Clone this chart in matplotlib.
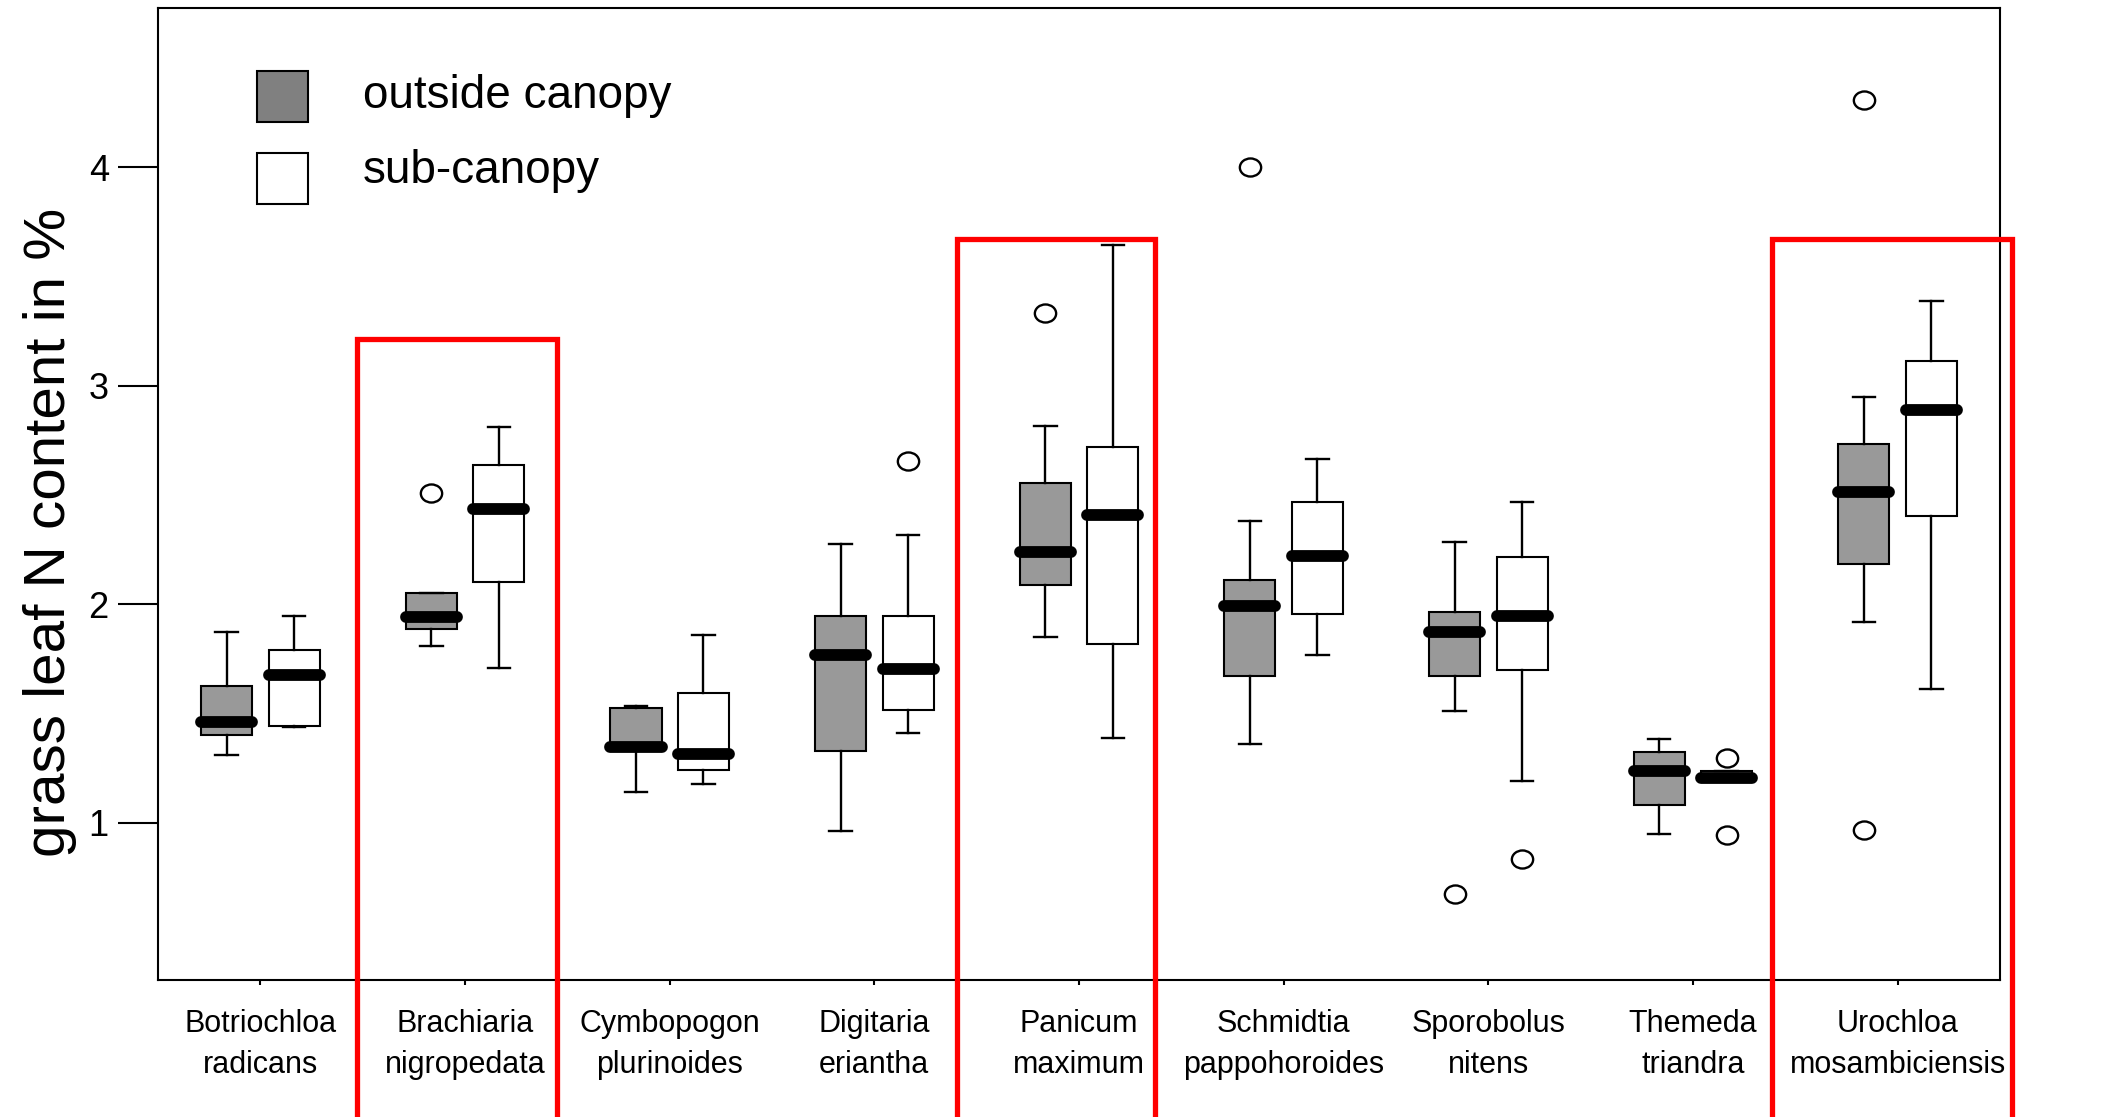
import matplotlib
matplotlib.use('Agg')
import matplotlib.pyplot as plt
from matplotlib import font_manager
from matplotlib.markers import MarkerStyle
from matplotlib.patches import Rectangle
from matplotlib.transforms import Affine2D


# <codecell>
'''DATA'''
species = ['Botriochloa\nradicans', 'Brachiaria\nnigropedata',
           'Cymbopogon\nplurinoides', 'Digitaria\neriantha',
           'Panicum\nmaximum', 'Schmidtia\npappohoroides',
           'Sporobolus\nnitens', 'Themeda\ntriandra',
           'Urochloa\nmosambiciensis']

# outside canopy (grey boxes)
out_whislo = [1.31, 1.81, 1.14, 0.96, 1.85, 1.36, 1.51, 0.95, 1.92]
out_q1 = [1.40, 1.885, 1.34, 1.33, 2.09, 1.67, 1.67, 1.08, 2.185]
out_med = [1.46, 1.94, 1.345, 1.77, 2.24, 1.99, 1.875, 1.235, 2.515]
out_q3 = [1.625, 2.05, 1.525, 1.945, 2.555, 2.11, 1.965, 1.325, 2.735]
out_whishi = [1.875, 2.05, 1.535, 2.275, 2.815, 2.38, 2.285, 1.385, 2.95]
out_fliers = [[], [2.51], [], [], [3.335], [4.0], [0.675], [], [4.31, 0.965]]

# sub-canopy (white boxes)
sub_whislo = [1.44, 1.71, 1.175, 1.41, 1.39, 1.77, 1.19, 1.19, 1.61]
sub_q1 = [1.445, 2.10, 1.24, 1.515, 1.82, 1.955, 1.70, 1.19, 2.405]
sub_med = [1.675, 2.435, 1.315, 1.705, 2.41, 2.22, 1.945, 1.205, 2.89]
sub_q3 = [1.79, 2.64, 1.595, 1.945, 2.72, 2.47, 2.215, 1.235, 3.115]
sub_whishi = [1.945, 2.81, 1.86, 2.315, 3.645, 2.665, 2.47, 1.235, 3.39]
sub_fliers = [[], [], [], [2.655], [], [], [0.835], [1.295, 0.945], []]

# red highlight frames (left, right, top in data units)
hl_left = [0.474, 3.404, 7.384]
hl_right = [1.451, 4.372, 8.56]
hl_top = [3.215, 3.672, 3.672]

yticks = [1, 2, 3, 4]
legend_labels = ['outside canopy', 'sub-canopy']
legend_colors = ['#808080', 'white']


# <codecell>
'''FONTS'''
names = {f.name for f in font_manager.fontManager.ttflist}
narrow = 'Liberation Sans Narrow' in names
tick_family = 'Liberation Sans Narrow' if narrow else 'Liberation Sans'
xtick_size = 25 if narrow else 22
ytick_size = 28 if narrow else 26
plt.rcParams['font.family'] = ['Liberation Sans', 'DejaVu Sans']


# <codecell>
'''PLOT'''
def stats(whislo, q1, med, q3, whishi, fliers):
    return [dict(whislo=a, q1=b, med=c, q3=d, whishi=e, fliers=f)
            for a, b, c, d, e, f in zip(whislo, q1, med, q3, whishi, fliers)]


fig = plt.figure(figsize=(21.05, 11.17), dpi=100)
ax = fig.add_axes([0.0751, 0.1227, 0.875, 0.8701])

ellipse = MarkerStyle('o', transform=Affine2D().scale(1.18, 1.0))
common = dict(widths=0.25, patch_artist=True, manage_ticks=False,
              capwidths=0.11,
              medianprops=dict(color='black', linewidth=8.5,
                               solid_capstyle='round'),
              whiskerprops=dict(color='black', linewidth=1.7),
              capprops=dict(color='black', linewidth=1.7),
              flierprops=dict(marker=ellipse, markerfacecolor='none',
                              markeredgecolor='black', markersize=13,
                              markeredgewidth=1.7))

pos = list(range(len(species)))
ax.bxp(stats(out_whislo, out_q1, out_med, out_q3, out_whishi, out_fliers),
       positions=[p - 0.165 for p in pos],
       boxprops=dict(facecolor='#999999', edgecolor='black', linewidth=1.5),
       **common)
ax.bxp(stats(sub_whislo, sub_q1, sub_med, sub_q3, sub_whishi, sub_fliers),
       positions=[p + 0.165 for p in pos],
       boxprops=dict(facecolor='white', edgecolor='black', linewidth=1.5),
       **common)

for l, r, t in zip(hl_left, hl_right, hl_top):
    ax.add_patch(Rectangle((l, -1), r - l, t + 1, fill=False,
                           edgecolor='#ff0000', linewidth=3.8,
                           clip_on=False, zorder=5))

ax.set_xlim(-0.5, 8.5)
ax.set_ylim(0.28, 4.73)
ax.set_xticks(pos)
ax.set_xticklabels(species, family=tick_family, fontsize=xtick_size,
                   linespacing=1.48)
ax.set_yticks(yticks)
ax.set_yticklabels([str(t) for t in yticks], family=tick_family,
                   fontsize=ytick_size)
ax.tick_params(axis='x', length=3.6, width=1.5, pad=17)
ax.tick_params(axis='y', length=29, width=1.5, pad=6.5)
for s in ax.spines.values():
    s.set_linewidth(1.5)

ax.set_ylabel('grass leaf N content in %', fontsize=42, labelpad=8, y=0.46)

# legend drawn by hand to keep the reference spacing
box_bottom = [0.8831, 0.7981]
text_base = [0.8968, 0.8203]
for lab, col, b, t in zip(legend_labels, legend_colors, box_bottom, text_base):
    ax.add_patch(Rectangle((0.0536, b), 0.028, 0.05245, transform=ax.transAxes,
                           facecolor=col, edgecolor='black', linewidth=1.5))
    ax.text(0.1113, t, lab, transform=ax.transAxes, fontsize=33,
            va='baseline', ha='left')

fig.savefig('out.png', dpi=100)
